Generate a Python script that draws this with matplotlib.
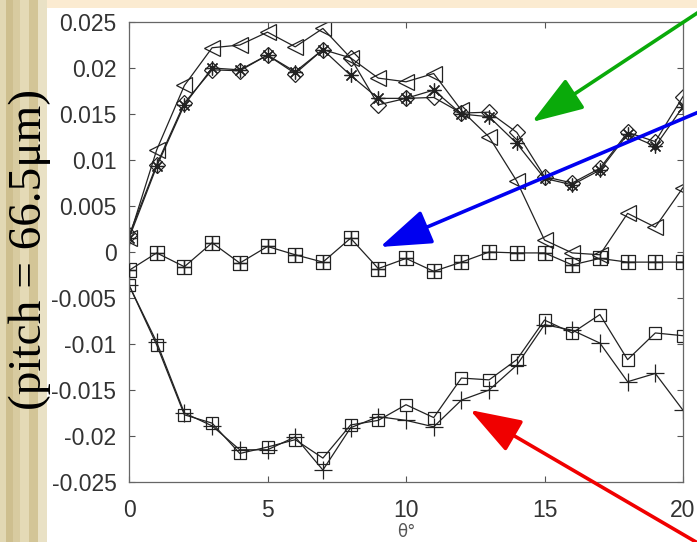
import matplotlib
matplotlib.use('Agg')
import matplotlib.pyplot as plt
from matplotlib.patches import Rectangle
from matplotlib.path import Path

# ---- data ----
theta = list(range(21))
tri = [0.0015, 0.0111, 0.0181, 0.0222, 0.0225, 0.0239, 0.0223, 0.0243, 0.0211, 0.0189, 0.0185,
       0.0194, 0.0154, 0.0125, 0.0077, 0.0013, -0.0001, -0.0003, 0.0042, 0.0027, 0.0070]
dia = [0.0018, 0.0095, 0.0162, 0.0198, 0.0197, 0.0214, 0.0194, 0.0220, 0.0211, 0.0160, 0.0167,
       0.0168, 0.0151, 0.0152, 0.0130, 0.0082, 0.0075, 0.0091, 0.0130, 0.0120, 0.0169]
star = [0.0015, 0.0093, 0.0160, 0.0200, 0.0198, 0.0214, 0.0196, 0.0220, 0.0192, 0.0167, 0.0167,
        0.0176, 0.0150, 0.0147, 0.0118, 0.0080, 0.0073, 0.0089, 0.0128, 0.0115, 0.0158]
sqplus = [-0.0020, -0.0001, -0.0016, 0.0010, -0.0012, 0.0006, -0.0003, -0.0011, 0.0015, -0.0018, -0.0007,
          -0.0021, -0.0011, 0.0000, -0.0001, -0.0001, -0.0014, -0.0007, -0.0011, -0.0011, -0.0011]
sq = [-0.0036, -0.0101, -0.0177, -0.0186, -0.0219, -0.0212, -0.0204, -0.0224, -0.0188, -0.0183, -0.0166,
      -0.0180, -0.0137, -0.0139, -0.0117, -0.0074, -0.0088, -0.0068, -0.0117, -0.0088, -0.0091]
plus = [-0.0036, -0.0098, -0.0175, -0.0189, -0.0215, -0.0215, -0.0201, -0.0237, -0.0191, -0.0179, -0.0183,
        -0.0190, -0.0161, -0.0150, -0.0123, -0.0079, -0.0085, -0.0099, -0.0141, -0.0132, -0.0172]
xticks = [0, 5, 10, 15, 20]
yticks = [0.025, 0.02, 0.015, 0.01, 0.005, 0, -0.005, -0.01, -0.015, -0.02, -0.025]
ytick_labels = ['0.025', '0.02', '0.015', '0.01', '0.005', '0', '-0.005', '-0.01', '-0.015', '-0.02', '-0.025']

W, H = 697, 542
fig = plt.figure(figsize=(W / 100, H / 100), dpi=100)
fig.patch.set_facecolor('white')

# slide background: peach top strip, striped tan left strip
fig.add_artist(Rectangle((0, 1 - 8 / H), 1, 8 / H, transform=fig.transFigure,
                         facecolor='#FBEBD1', edgecolor='none', zorder=0))
stripes = [(0, 6, '#E2D8B4'), (6, 13, '#CEBF8F'), (13, 20, '#D8CBA0'), (20, 29, '#E4DAB6'),
           (29, 38, '#D3C597'), (38, 47, '#E9E1C5')]
for x0, x1, c in stripes:
    fig.add_artist(Rectangle((x0 / W, 0), (x1 - x0) / W, 1, transform=fig.transFigure,
                             facecolor=c, edgecolor='none', zorder=0))

ax = fig.add_axes([129 / W, (H - 482) / H, (683 - 129) / W, (482 - 22) / H])
ax.set_facecolor('white')

# boxed-plus marker (square with a cross inside)
boxplus = Path([(-1, -1), (1, -1), (1, 1), (-1, 1), (-1, -1), (0, -1), (0, 1), (-1, 0), (1, 0)],
               [Path.MOVETO, Path.LINETO, Path.LINETO, Path.LINETO, Path.LINETO,
                Path.MOVETO, Path.LINETO, Path.MOVETO, Path.LINETO])

lc = '#222222'
ms = 10
ax.plot(theta, tri, color=lc, lw=0.9, marker='<', ms=ms + 1, mfc='none', mec=lc, mew=0.9)
ax.plot(theta, dia, color=lc, lw=0.9, marker='D', ms=ms - 2, mfc='none', mec=lc, mew=0.9)
ax.plot(theta, star, color=lc, lw=0.9, marker=(8, 2, 0), ms=ms, mec=lc, mew=0.9)
ax.plot(theta, sqplus, color=lc, lw=0.9, marker=boxplus, ms=ms, mfc='none', mec=lc, mew=0.9)
ax.plot(theta, sqplus, ls='none', marker='+', ms=ms, mec=lc, mew=1.0, zorder=3)
ax.plot(theta, sq, color=lc, lw=0.9, marker='s', ms=ms - 1, mfc='none', mec=lc, mew=0.9)
ax.plot(theta, plus, color=lc, lw=0.9, marker='+', ms=ms + 3, mec=lc, mew=0.9)

ax.set_xlim(0, 20)
ax.set_ylim(-0.025, 0.025)
ax.set_xticks(xticks)
ax.set_xticklabels([str(t) for t in xticks])
ax.set_yticks(yticks)
ax.set_yticklabels(ytick_labels)
ax.tick_params(direction='in', length=4, width=0.8, color='#555555', top=True, right=True,
               labelsize=16.5, labelcolor='#333333')
ax.tick_params(axis='y', pad=9)
ax.tick_params(axis='x', pad=12)
for lab in ax.get_xticklabels() + ax.get_yticklabels():
    lab.set_family('Liberation Sans')
for s in ax.spines.values():
    s.set_color('#666666')
    s.set_linewidth(0.9)
ax.set_xlabel('θ°', fontsize=12, color='#555555', labelpad=1)

fig.text(30 / W, 1 - 249 / H, '(pitch = 66.5μm)', rotation=90, ha='center', va='center',
         fontsize=34, family=['Liberation Serif', 'DejaVu Serif'], color='black')

def arrow(tip, tail, color):
    ax.annotate('', xy=(tip[0] / W, 1 - tip[1] / H), xytext=(tail[0] / W, 1 - tail[1] / H),
                xycoords='figure fraction', textcoords='figure fraction', annotation_clip=False,
                arrowprops=dict(arrowstyle='-|>,head_length=1.6,head_width=0.55', color=color,
                                lw=2.6, shrinkA=0, shrinkB=0, mutation_scale=20))

arrow((532, 122), (720, -2), '#0AAA0A')
arrow((380, 247), (720, 103), '#0000F0')
arrow((470, 410), (720, 556), '#F00000')

fig.savefig('out.png', dpi=100)
